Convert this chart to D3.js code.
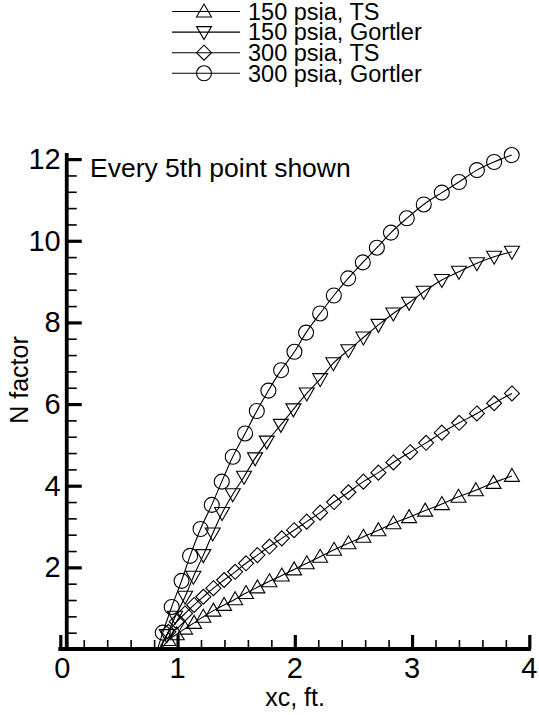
<!DOCTYPE html>
<html>
<head>
<meta charset="utf-8">
<script src="https://cdn.jsdelivr.net/npm/d3@7"></script>
<style>
  body { margin: 0; background: #fff; }
  text { font-family: "Liberation Sans", Arial, Helvetica, sans-serif; fill: #000; }
</style>
</head>
<body>
<div id="container"></div>
<script>
// Data (every 5th point shown)
const seriesNames = ['150 psia, TS', '150 psia, Gortler', '300 psia, TS', '300 psia, Gortler'];
const markerKinds = ['triUp', 'triDown', 'diamond', 'circle'];

const ts150X = [0.922, 0.993, 1.064, 1.141, 1.220, 1.306, 1.397, 1.491, 1.584, 1.681, 1.784, 1.889, 1.994, 2.102, 2.216, 2.335, 2.457, 2.585, 2.713, 2.841, 2.975, 3.112, 3.254, 3.396, 3.544, 3.695, 3.852];
const ts150Y = [0.22, 0.36, 0.50, 0.64, 0.79, 0.94, 1.08, 1.22, 1.37, 1.51, 1.66, 1.80, 1.95, 2.10, 2.26, 2.43, 2.59, 2.75, 2.91, 3.08, 3.23, 3.39, 3.55, 3.73, 3.89, 4.07, 4.24];

const gortler150X = [0.908, 0.979, 1.064, 1.135, 1.220, 1.300, 1.380, 1.471, 1.567, 1.661, 1.761, 1.881, 1.988, 2.102, 2.216, 2.329, 2.457, 2.585, 2.713, 2.840, 2.975, 3.100, 3.254, 3.400, 3.553, 3.700, 3.852];
const gortler150Y = [0.34, 0.79, 1.28, 1.77, 2.30, 2.83, 3.33, 3.79, 4.22, 4.67, 5.08, 5.49, 5.87, 6.26, 6.61, 7.00, 7.32, 7.63, 7.94, 8.22, 8.48, 8.75, 9.04, 9.24, 9.45, 9.61, 9.73];

const ts300X = [0.922, 0.993, 1.064, 1.141, 1.220, 1.306, 1.397, 1.491, 1.584, 1.681, 1.784, 1.889, 1.994, 2.102, 2.216, 2.335, 2.457, 2.585, 2.713, 2.841, 2.984, 3.120, 3.254, 3.402, 3.553, 3.700, 3.852];
const ts300Y = [0.42, 0.67, 0.87, 1.08, 1.28, 1.49, 1.69, 1.89, 2.10, 2.30, 2.51, 2.71, 2.91, 3.12, 3.34, 3.60, 3.84, 4.10, 4.32, 4.57, 4.82, 5.05, 5.30, 5.54, 5.77, 6.02, 6.26];

const gortler300X = [0.874, 0.950, 1.034, 1.107, 1.196, 1.292, 1.377, 1.471, 1.576, 1.676, 1.775, 1.883, 1.997, 2.096, 2.216, 2.333, 2.455, 2.580, 2.700, 2.820, 2.955, 3.100, 3.254, 3.400, 3.553, 3.700, 3.850];
const gortler300Y = [0.40, 1.03, 1.67, 2.28, 2.94, 3.53, 4.10, 4.71, 5.28, 5.83, 6.33, 6.83, 7.28, 7.75, 8.22, 8.66, 9.08, 9.47, 9.83, 10.20, 10.55, 10.89, 11.18, 11.44, 11.73, 11.93, 12.10];

// first (unmarked) point of each line, where it leaves the axis
const lineStartX = [0.86, 0.85, 0.85, 0.83];
const lineStartY = [0.0, 0.0, 0.0, 0.0];

const xMajorTicks = [0, 1, 2, 3, 4];
const xMinorTicks = [0.2, 0.4, 0.6, 0.8, 1.2, 1.4, 1.6, 1.8, 2.2, 2.4, 2.6, 2.8, 3.2, 3.4, 3.6, 3.8];
const yMajorTicks = [2, 4, 6, 8, 10, 12];
const yMinorTicks = [0.4, 0.8, 1.2, 1.6, 2.4, 2.8, 3.2, 3.6, 4.4, 4.8, 5.2, 5.6, 6.4, 6.8, 7.2, 7.6, 8.4, 8.8, 9.2, 9.6, 10.4, 10.8, 11.2, 11.6];

const allX = [ts150X, gortler150X, ts300X, gortler300X];
const allY = [ts150Y, gortler150Y, ts300Y, gortler300Y];

const width = 539, height = 715;

const svg = d3.select('#container')
    .append('svg')
    .attr('width', width)
    .attr('height', height);

svg.append('rect')
    .attr('width', width)
    .attr('height', height)
    .attr('fill', '#fff');

const x = d3.scaleLinear().domain([0, 4]).range([60.3, 529.3]);
const y = d3.scaleLinear().domain([0, 12.15]).range([649, 153]);
const yAxisAt = 0.055;   // the vertical axis sits just right of x = 0

function markerPath(kind) {
    if (kind === 'triUp') return 'M0,-7.5L7.5,5.5L-7.5,5.5Z';
    if (kind === 'triDown') return 'M0,7.5L7.5,-5.5L-7.5,-5.5Z';
    if (kind === 'diamond') return 'M0,-7.5L7.5,0L0,7.5L-7.5,0Z';
    return d3.arc()({innerRadius: 0, outerRadius: 7.5, startAngle: 0, endAngle: 2 * Math.PI});
}

// Curves
const line = d3.line()
    .x(d => x(d[0]))
    .y(d => y(d[1]))
    .curve(d3.curveMonotoneX);

allX.forEach((xs, i) => {
    const pts = [[lineStartX[i], lineStartY[i]]].concat(xs.map((v, j) => [v, allY[i][j]]));
    svg.append('path')
        .datum(pts)
        .attr('d', line)
        .attr('fill', 'none')
        .attr('stroke', '#000')
        .attr('stroke-width', 1.1);

    svg.append('g')
        .selectAll('path')
        .data(xs.map((v, j) => [v, allY[i][j]]))
        .enter()
        .append('path')
        .attr('transform', d => `translate(${x(d[0])},${y(d[1])})`)
        .attr('d', markerPath(markerKinds[i]))
        .attr('fill', 'none')
        .attr('stroke', '#000')
        .attr('stroke-width', 1.1);
});

// Axes: inward ticks
const yAxisX = x(yAxisAt);

const yMajor = svg.append('g')
    .attr('transform', `translate(${yAxisX},0)`)
    .call(d3.axisRight(y).tickValues(yMajorTicks).tickSize(15).tickFormat(''));
yMajor.selectAll('.tick line').attr('stroke-width', 3.2);

const yMinor = svg.append('g')
    .attr('transform', `translate(${yAxisX},0)`)
    .call(d3.axisRight(y).tickValues(yMinorTicks).tickSize(10).tickFormat(''));
yMinor.selectAll('.tick line').attr('stroke-width', 1.6);

const xMajor = svg.append('g')
    .attr('transform', `translate(0,${y(0)})`)
    .call(d3.axisTop(x).tickValues(xMajorTicks).tickSize(14).tickFormat(''));
xMajor.selectAll('.tick line').attr('stroke-width', 3.2);

const xMinor = svg.append('g')
    .attr('transform', `translate(0,${y(0)})`)
    .call(d3.axisTop(x).tickValues(xMinorTicks).tickSize(9).tickFormat(''));
xMinor.selectAll('.tick line').attr('stroke-width', 1.6);

svg.selectAll('.domain').remove();

svg.append('line')
    .attr('x1', yAxisX).attr('x2', yAxisX)
    .attr('y1', y(0) + 1.8).attr('y2', y(12.15))
    .attr('stroke', '#000').attr('stroke-width', 3.8);

svg.append('line')
    .attr('x1', x(0) - 2).attr('x2', x(4) + 1.6)
    .attr('y1', y(0)).attr('y2', y(0))
    .attr('stroke', '#000').attr('stroke-width', 3.8);

// Tick labels
svg.append('g')
    .selectAll('text')
    .data(yMajorTicks)
    .enter()
    .append('text')
    .attr('x', yAxisX - 6)
    .attr('y', d => y(d) + 10)
    .attr('text-anchor', 'end')
    .attr('font-size', 29)
    .text(d => d);

svg.append('g')
    .selectAll('text')
    .data(xMajorTicks)
    .enter()
    .append('text')
    .attr('x', d => d === 0 ? x(d) + 2 : x(d))
    .attr('y', y(0) + 29)
    .attr('text-anchor', 'middle')
    .attr('font-size', 29)
    .text(d => d);

// Axis titles
svg.append('text')
    .attr('x', (yAxisX + x(4)) / 2 - 3)
    .attr('y', 706)
    .attr('text-anchor', 'middle')
    .attr('font-size', 25)
    .text('xc, ft.');

svg.append('text')
    .attr('transform', 'translate(28,380) rotate(-90)')
    .attr('text-anchor', 'middle')
    .attr('font-size', 25)
    .text('N factor');

svg.append('text')
    .attr('x', 90)
    .attr('y', 177)
    .attr('font-size', 26.5)
    .text('Every 5th point shown');

// Legend
const legend = svg.append('g')
    .selectAll('g')
    .data(seriesNames)
    .enter()
    .append('g')
    .attr('transform', (d, i) => `translate(0,${11.5 + 20.6 * i})`);

legend.append('line')
    .attr('x1', 172).attr('x2', 240)
    .attr('y1', 0).attr('y2', 0)
    .attr('stroke', '#000')
    .attr('stroke-width', 1.1);

legend.append('path')
    .attr('transform', 'translate(204,0)')
    .attr('d', (d, i) => markerPath(markerKinds[i]))
    .attr('fill', 'none')
    .attr('stroke', '#000')
    .attr('stroke-width', 1.1);

legend.append('text')
    .attr('x', 248)
    .attr('y', 8.3)
    .attr('font-size', 23.5)
    .text(d => d);
</script>
</body>
</html>
